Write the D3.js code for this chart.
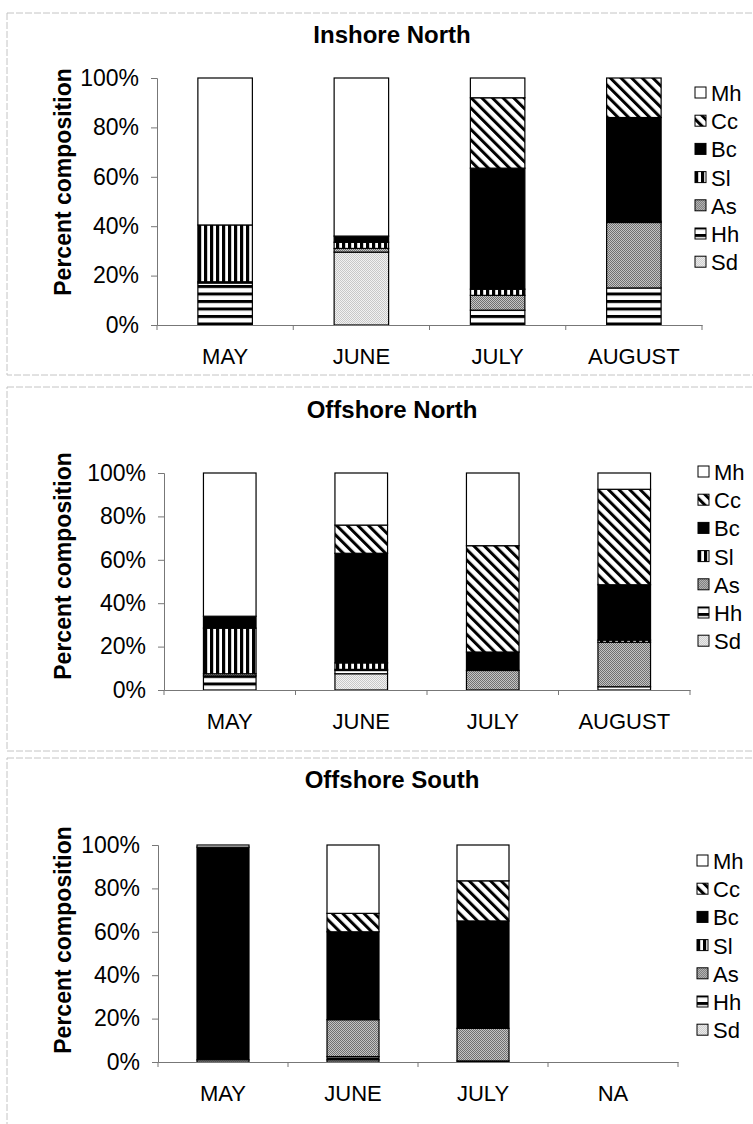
<!DOCTYPE html>
<html>
<head>
<meta charset="utf-8">
<script src="https://cdn.jsdelivr.net/npm/d3@7"></script>
<style>
  body { margin: 0; background: #fff; }
  text { font-family: "Liberation Sans", Arial, sans-serif; fill: #000; }
</style>
</head>
<body>
<script>
// stack keys, bottom to top
var stackKeys = ["Sd", "Hh", "As", "Sl", "Bc", "Cc", "Mh"];
var legendKeys = ["Mh", "Cc", "Bc", "Sl", "As", "Hh", "Sd"];
var yTicks = [0, 20, 40, 60, 80, 100];

var monthsNorth = ["MAY", "JUNE", "JULY", "AUGUST"];
var monthsSouth = ["MAY", "JUNE", "JULY", "NA"];

// one row per month, columns in stackKeys order (Sd, Hh, As, Sl, Bc, Cc, Mh)
var inshoreNorth = [
    [0, 17, 0.5, 23, 0, 0, 59.5],
    [29.5, 0, 1.5, 2.5, 2.5, 0, 64],
    [0, 6, 6, 2.5, 49, 28.5, 8],
    [0, 15, 26.5, 0.5, 42, 16, 0]
];
var offshoreNorth = [
    [0, 6.5, 1, 21, 5.5, 0, 66],
    [7.5, 1.5, 0.5, 3, 50.5, 13, 24],
    [0, 0, 9, 0, 8.5, 49, 33.5],
    [0, 1.5, 20.5, 1, 25.5, 44, 7.5]
];
var offshoreSouth = [
    [1, 0, 0, 0, 98, 0, 1],
    [1, 1.5, 17, 0, 40.5, 8.5, 31.5],
    [0, 0.5, 15, 0, 49.5, 18.5, 16.5],
    [0, 0, 0, 0, 0, 0, 0]
];

var W = 753, H = 1124;
var svg = d3.select("body").append("svg")
    .attr("width", W)
    .attr("height", H);

// fill patterns
var defs = svg.append("defs");

function stripes(id, w, h, rect, transform) {
    var p = defs.append("pattern")
        .attr("id", id)
        .attr("patternUnits", "userSpaceOnUse")
        .attr("width", w)
        .attr("height", h);
    if (transform) p.attr("patternTransform", transform);
    p.append("rect").attr("width", w).attr("height", h).attr("fill", "#fff");
    p.append("rect")
        .attr("x", rect[0]).attr("y", rect[1])
        .attr("width", rect[2]).attr("height", rect[3])
        .attr("fill", "#000");
}
function dither(id, dark, light) {
    var p = defs.append("pattern")
        .attr("id", id)
        .attr("patternUnits", "userSpaceOnUse")
        .attr("width", 2)
        .attr("height", 2);
    p.append("rect").attr("width", 2).attr("height", 2).attr("fill", light);
    p.append("rect").attr("width", 1).attr("height", 1).attr("fill", dark);
    p.append("rect").attr("x", 1).attr("y", 1).attr("width", 1).attr("height", 1).attr("fill", dark);
}
stripes("pat-cc", 7.5, 10, [0, 0, 3, 10], "rotate(-45)");
stripes("pat-sl", 6, 10, [0, 0, 3.2, 10], null);
stripes("pat-hh", 10, 7.5, [0, 0, 10, 3], null);
dither("pat-as", "#707070", "#c4c4c4");
dither("pat-sd", "#c8c8c8", "#f2f2f2");

var fills = {
    Mh: "#fff",
    Cc: "url(#pat-cc)",
    Bc: "#000",
    Sl: "url(#pat-sl)",
    As: "url(#pat-as)",
    Hh: "url(#pat-hh)",
    Sd: "url(#pat-sd)"
};

function drawPanel(cfg, title, months, rows) {
    var g = svg.append("g");

    // dashed frame of the chart area
    g.append("rect")
        .attr("x", 7).attr("y", cfg.frameTop)
        .attr("width", W).attr("height", cfg.frameBottom - cfg.frameTop)
        .attr("fill", "none")
        .attr("stroke", "#c4c4c4")
        .attr("stroke-dasharray", "7,2");

    var x = d3.scaleBand()
        .domain(months)
        .range([cfg.left, cfg.right])
        .paddingInner(0.6)
        .paddingOuter(0.3);
    var y = d3.scaleLinear()
        .domain([0, 100])
        .range([cfg.bottom, cfg.top]);

    var table = rows.map(function (r, i) {
        var o = { month: months[i] };
        stackKeys.forEach(function (k, j) { o[k] = r[j]; });
        return o;
    });
    var series = d3.stack().keys(stackKeys)(table);

    g.selectAll("g.layer")
        .data(series)
        .enter()
        .append("g")
        .attr("class", "layer")
        .attr("fill", function (d) { return fills[d.key]; })
        .selectAll("rect")
        .data(function (d) { return d.filter(function (s) { return s[1] - s[0] > 0; }); })
        .enter()
        .append("rect")
        .attr("x", function (d) { return x(d.data.month); })
        .attr("width", x.bandwidth())
        .attr("y", function (d) { return y(d[1]); })
        .attr("height", function (d) { return y(d[0]) - y(d[1]); })
        .attr("stroke", "#000")
        .attr("stroke-width", 1.2);

    // y axis
    var yAxis = g.append("g")
        .attr("transform", "translate(" + cfg.left + ",0)")
        .call(d3.axisLeft(y).tickValues(yTicks).tickSize(6).tickPadding(12)
            .tickFormat(function (d) { return d + "%"; }));
    yAxis.select(".domain").attr("stroke", "#777");
    yAxis.selectAll(".tick line").attr("stroke", "#777");
    yAxis.selectAll("text")
        .style("font-size", "23px")
        .attr("fill", "#000");

    // x axis, ticks sit on the category borders
    var xAxis = g.append("g")
        .attr("transform", "translate(0," + cfg.bottom + ")")
        .call(d3.axisBottom(x).tickSize(0).tickPadding(23));
    xAxis.select(".domain").attr("stroke", "#777");
    xAxis.selectAll("text")
        .style("font-size", "22px")
        .attr("fill", "#000");
    xAxis.selectAll("line.border")
        .data(d3.range(months.length + 1))
        .enter()
        .append("line")
        .attr("class", "border")
        .attr("x1", function (i) { return cfg.left + i * x.step(); })
        .attr("x2", function (i) { return cfg.left + i * x.step(); })
        .attr("y1", 0)
        .attr("y2", 5)
        .attr("stroke", "#777");

    // titles
    g.append("text")
        .attr("x", 392)
        .attr("y", cfg.titleY)
        .attr("text-anchor", "middle")
        .style("font-size", "24px")
        .style("font-weight", "bold")
        .text(title);
    g.append("text")
        .attr("transform", "translate(" + 71 + "," + cfg.yTitleY + ") rotate(-90)")
        .attr("text-anchor", "middle")
        .style("font-size", "23px")
        .style("font-weight", "bold")
        .text("Percent composition");

    // legend
    var leg = g.selectAll("g.leg")
        .data(legendKeys)
        .enter()
        .append("g")
        .attr("class", "leg")
        .attr("transform", function (d, i) {
            return "translate(" + cfg.legendX + "," + (cfg.legendY + i * 28.2) + ")";
        });
    leg.append("rect")
        .attr("x", 0).attr("y", -6)
        .attr("width", 11).attr("height", 11)
        .attr("fill", function (d) { return fills[d]; })
        .attr("stroke", "#000")
        .attr("stroke-width", 1);
    leg.append("text")
        .attr("x", 16)
        .attr("y", 8)
        .style("font-size", "22px")
        .text(function (d) { return d; });
}

drawPanel({ frameTop: 13, frameBottom: 375, left: 157, right: 702, top: 78, bottom: 325,
    titleY: 43, yTitleY: 182, legendX: 695, legendY: 93 },
    "Inshore North", monthsNorth, inshoreNorth);
drawPanel({ frameTop: 387, frameBottom: 751, left: 164, right: 690, top: 473, bottom: 690,
    titleY: 418, yTitleY: 566, legendX: 698, legendY: 472 },
    "Offshore North", monthsNorth, offshoreNorth);
drawPanel({ frameTop: 758, frameBottom: 1140, left: 158, right: 678, top: 845, bottom: 1062,
    titleY: 788, yTitleY: 940, legendX: 697, legendY: 861 },
    "Offshore South", monthsSouth, offshoreSouth);
</script>
</body>
</html>
